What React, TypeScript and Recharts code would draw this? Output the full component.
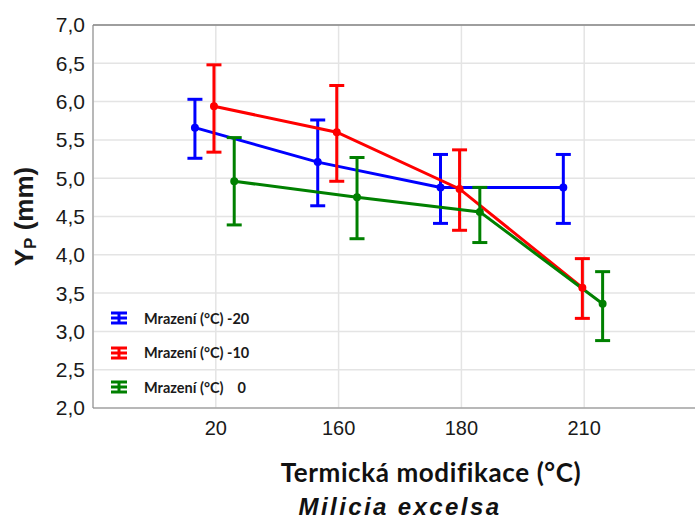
import React from "react";
import {
  LineChart, Line, XAxis, YAxis, CartesianGrid, ErrorBar, ReferenceLine,
} from "recharts";

// Heat-treatment categories on the x axis
const categories = ["20", "160", "180", "210"];
const yTicks = [2, 2.5, 3, 3.5, 4, 4.5, 5, 5.5, 6, 6.5, 7];

// Freezing -20 °C
const meanM20 = [5.66, 5.21, 4.88, 4.88];
const lowM20 = [5.26, 4.64, 4.41, 4.41];
const highM20 = [6.03, 5.76, 5.31, 5.31];

// Freezing -10 °C
const meanM10 = [5.94, 5.6, 4.86, 3.57];
const lowM10 = [5.34, 4.96, 4.32, 3.17];
const highM10 = [6.48, 6.21, 5.37, 3.95];

// Freezing 0 °C
const meanZero = [4.96, 4.75, 4.56, 3.36];
const lowZero = [4.39, 4.21, 4.16, 2.88];
const highZero = [5.53, 5.27, 4.88, 3.78];

const seriesNames = ["Mrazení (°C) -20", "Mrazení (°C) -10", "Mrazení (°C)    0"];

const BLUE = "#0000ff";
const RED = "#ff0000";
const GREEN = "#008000";
const AXIS = "#858585";
const GRID = "#e4e4e4";

// points of one series are nudged sideways so the error bars don't overlap
function build(mean: number[], low: number[], high: number[], shift: number) {
  return mean.map((m, i) => ({
    x: i + 1 + shift,
    y: m,
    err: [+(m - low[i]).toFixed(2), +(high[i] - m).toFixed(2)],
  }));
}

const dataM20 = build(meanM20, lowM20, highM20, -0.17);
const dataM10 = build(meanM10, lowM10, highM10, -0.015);
const dataZero = build(meanZero, lowZero, highZero, 0.15);

const fmt = (v: number) => v.toFixed(1).replace(".", ",");

function LegendIcon({ color }: { color: string }) {
  return (
    <svg width={16} height={14} style={{ display: "block" }}>
      <line x1={0} x2={16} y1={2} y2={2} stroke={color} strokeWidth={3} />
      <line x1={0} x2={16} y1={7} y2={7} stroke={color} strokeWidth={3} />
      <line x1={0} x2={16} y1={12} y2={12} stroke={color} strokeWidth={3} />
      <line x1={8} x2={8} y1={2} y2={12} stroke={color} strokeWidth={3} />
    </svg>
  );
}

function SeriesLegend() {
  const colors = [BLUE, RED, GREEN];
  return (
    <div style={{ position: "absolute", left: 111, top: 301, display: "flex", flexDirection: "column" }}>
      {seriesNames.map((name, i) => (
        <div key={name} style={{ display: "flex", alignItems: "center", height: 34.5 }}>
          <LegendIcon color={colors[i]} />
          <span
            style={{
              marginLeft: 17, fontFamily: "Lato", fontWeight: 700, fontSize: 14.5,
              color: "#1a1a1a", whiteSpace: "pre",
            }}
          >
            {name}
          </span>
        </div>
      ))}
    </div>
  );
}

function YLabel({ viewBox }: any) {
  const cx = 24;
  const cy = viewBox.y + viewBox.height / 2;
  return (
    <text
      x={cx}
      y={cy}
      transform={`rotate(-90, ${cx}, ${cy})`}
      textAnchor="middle"
      dominantBaseline="central"
      fontFamily="Liberation Sans, Arial"
      fontWeight={700}
      fontSize={26}
      fill="#1a1a1a"
    >
      Y<tspan fontSize={17} dy={6}>P</tspan>
      <tspan dy={-6}> (mm)</tspan>
    </text>
  );
}

function XLabel() {
  return (
    <g>
      <text
        x={431} y={482} textAnchor="middle" fontFamily="Lato" fontWeight={700}
        fontSize={26} letterSpacing={0.6} fill="#111"
      >
        Termická modifikace (°C)
      </text>
      <text
        x={400} y={515} textAnchor="middle" fontFamily="Liberation Sans, Arial"
        fontWeight={700} fontStyle="italic" fontSize={24} letterSpacing={2.4} fill="#111"
      >
        Milicia excelsa
      </text>
    </g>
  );
}

export default function App() {
  const lineProps = { type: "linear" as const, strokeWidth: 3, isAnimationActive: false };
  return (
    <div style={{ position: "absolute", left: 0, top: 0, width: 695, height: 520, overflow: "hidden", background: "#fff" }}>
      <LineChart width={710} height={520} margin={{ top: 25, right: 3, bottom: 0, left: 0 }}>
        <CartesianGrid stroke={GRID} strokeWidth={1.5} />
        <XAxis
          type="number"
          dataKey="x"
          domain={[0, 5]}
          ticks={[1, 2, 3, 4]}
          interval={0}
          tickFormatter={(v: number) => categories[v - 1]}
          height={112}
          stroke={AXIS}
          tickLine={false}
          tickMargin={7}
          tick={{ fontSize: 20, fill: "#1a1a1a", fontFamily: "Liberation Sans, Arial" }}
          allowDuplicatedCategory={false}
          label={<XLabel />}
        />
        <YAxis
          type="number"
          domain={[2, 7]}
          ticks={yTicks}
          interval={0}
          width={93}
          stroke={AXIS}
          tickLine={false}
          tickFormatter={fmt}
          tick={{ fontSize: 21, fill: "#1a1a1a", fontFamily: "Liberation Sans, Arial" }}
          label={<YLabel />}
        />
        <ReferenceLine y={7} stroke={AXIS} strokeWidth={1.5} />
        <Line data={dataM20} dataKey="y" stroke={BLUE} {...lineProps} dot={{ r: 2.5, fill: BLUE, stroke: BLUE }}>
          <ErrorBar dataKey="err" direction="y" width={7.5} stroke={BLUE} strokeWidth={3} />
        </Line>
        <Line data={dataM10} dataKey="y" stroke={RED} {...lineProps} dot={{ r: 2.5, fill: RED, stroke: RED }}>
          <ErrorBar dataKey="err" direction="y" width={7.5} stroke={RED} strokeWidth={3} />
        </Line>
        <Line data={dataZero} dataKey="y" stroke={GREEN} {...lineProps} dot={{ r: 2.5, fill: GREEN, stroke: GREEN }}>
          <ErrorBar dataKey="err" direction="y" width={7.5} stroke={GREEN} strokeWidth={3} />
        </Line>
      </LineChart>
      <SeriesLegend />
    </div>
  );
}
